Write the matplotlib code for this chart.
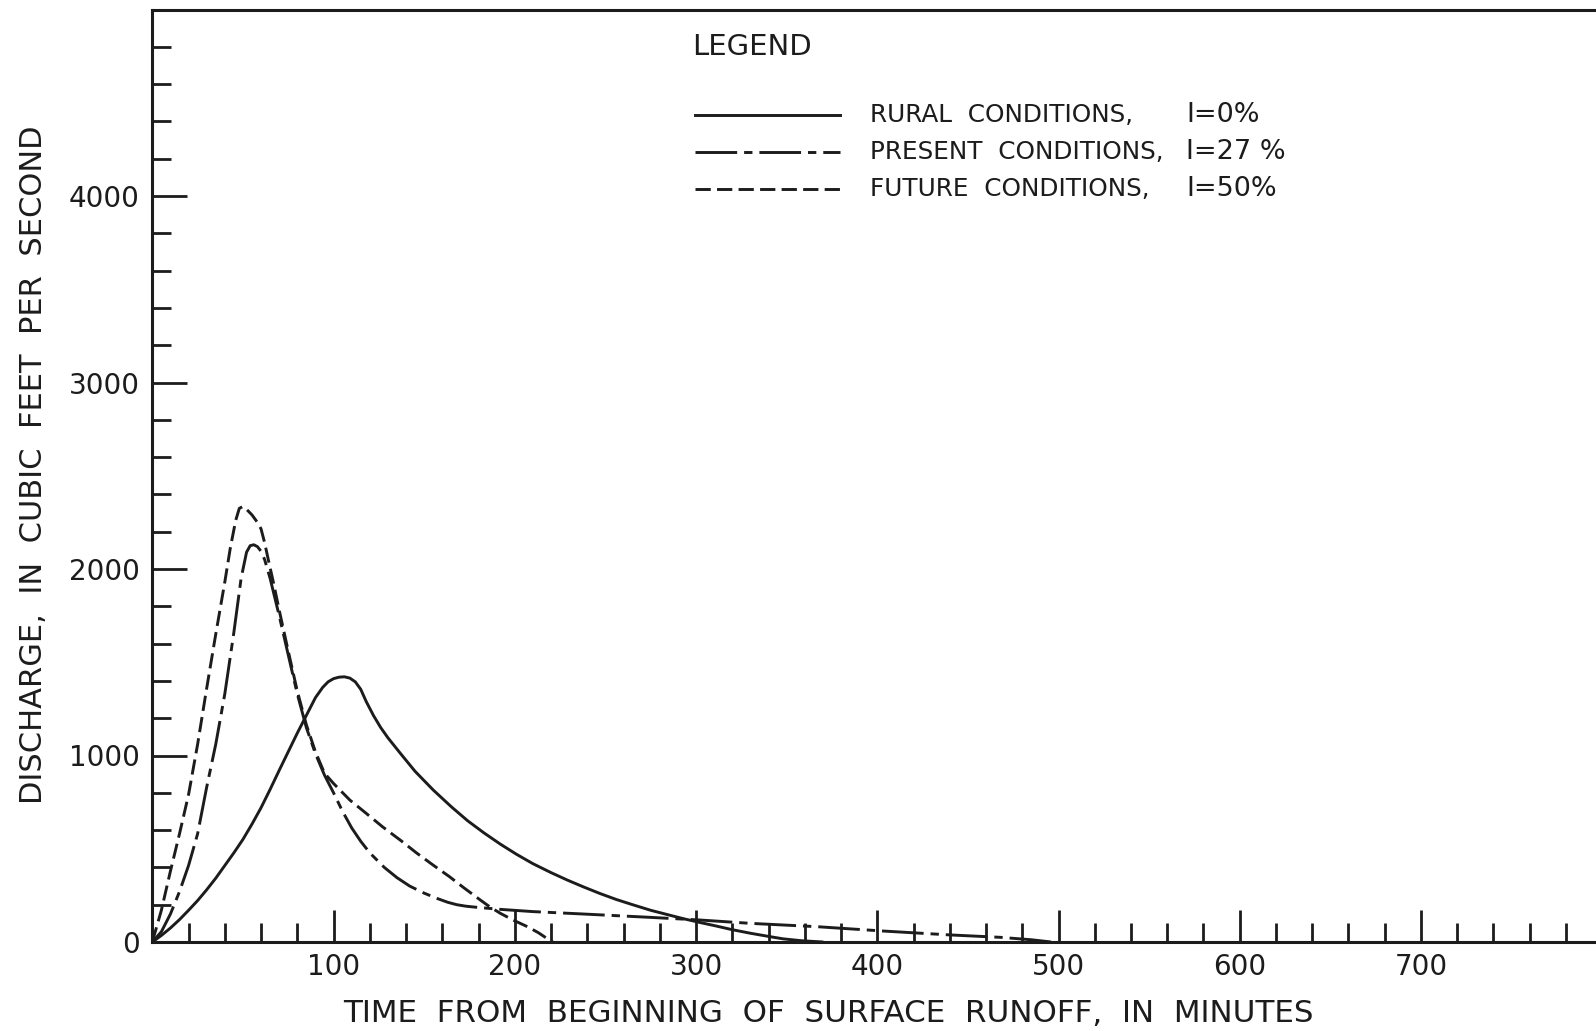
import matplotlib
matplotlib.use("Agg")
import matplotlib.pyplot as plt
from matplotlib.lines import Line2D
from matplotlib.ticker import FixedLocator, MultipleLocator

plt.rcParams["font.family"] = ["DejaVu Sans"]
plt.rcParams["lines.scale_dashes"] = False

INK = "#1c1c1c"

# Hydrographs: time from beginning of surface runoff (min) vs discharge (cfs)
rural_t = [0, 5, 10, 15, 20, 25, 30, 35, 40, 45, 50, 55, 60, 65, 70, 75, 80, 85, 90,
           94, 97, 100, 103, 106, 109, 112, 115, 118, 122, 126, 130, 137, 145, 155,
           165, 174, 183, 192, 201, 210, 220, 229, 238, 247, 256, 265, 275, 285, 293,
           302, 311, 320, 330, 340, 348, 358, 370]
rural_q = [0, 35, 75, 120, 170, 222, 280, 342, 410, 478, 550, 632, 720, 818, 920, 1020,
           1120, 1215, 1310, 1365, 1395, 1412, 1420, 1422, 1415, 1395, 1355, 1290, 1215,
           1150, 1095, 1010, 915, 815, 725, 650, 585, 525, 470, 420, 372, 332, 295, 260,
           228, 200, 170, 145, 125, 105, 86, 66, 47, 30, 17, 7, 0]

present_t = [0, 5, 10, 15, 20, 25, 30, 35, 40, 45, 49, 52, 54, 56, 58, 60, 62, 65, 70,
             75, 80, 85, 90, 95, 100, 105, 110, 115, 120, 128, 135, 142, 150, 157, 163,
             168, 173, 178, 185, 192, 210, 238, 275, 302, 330, 367, 403, 440, 468, 485,
             496]
present_q = [0, 55, 150, 270, 410, 580, 830, 1060, 1330, 1660, 1950, 2090, 2125, 2130,
             2120, 2095, 2050, 1950, 1750, 1540, 1330, 1150, 1010, 895, 800, 700, 612,
             540, 478, 400, 345, 300, 262, 234, 213, 200, 192, 187, 181, 175, 163, 150,
             132, 118, 100, 82, 59, 38, 25, 12, 0]

future_t = [0, 5, 10, 15, 20, 25, 30, 35, 40, 43, 46, 48, 50, 52, 55, 58, 60, 62, 64,
            67, 70, 75, 80, 85, 90, 95, 100, 109, 118, 127, 137, 146, 155, 164, 172, 181,
            186, 192, 199, 207, 213, 219, 221]
future_q = [0, 170, 380, 580, 790, 1060, 1360, 1650, 1930, 2110, 2260, 2325, 2335, 2320,
            2290, 2250, 2215, 2140, 2050, 1920, 1780, 1560, 1345, 1165, 1020, 905, 850,
            761, 690, 618, 545, 476, 412, 350, 290, 225, 190, 154, 118, 82, 50, 11, 0]

x_major = [0, 100, 200, 300, 400, 500, 600, 700, 800]
x_labels = ["", "100", "200", "300", "400", "500", "600", "700", ""]
y_major = [0, 1000, 2000, 3000, 4000]
y_labels = ["0", "1000", "2000", "3000", "4000"]

legend_entries = [
    ("RURAL  CONDITIONS,", "I=0%"),
    ("PRESENT  CONDITIONS,", "I=27 %"),
    ("FUTURE  CONDITIONS,", "I=50%"),
]

W, H = 1596, 1031
fig = plt.figure(figsize=(W / 100, H / 100), dpi=100)
fig.patch.set_facecolor("white")


def fx(x):
    return x / W


def fy(y):
    return 1 - y / H


x0, y0 = 152.3, 942.0
px_per_min = 1.8124
px_per_cfs = 0.1865
ax = fig.add_axes([fx(x0), fy(y0), 800 * px_per_min / W, 5000 * px_per_cfs / H])
ax.set_xlim(0, 800)
ax.set_ylim(0, 5000)
ax.set_facecolor("white")

lw = 2.1
solid_style = dict(color=INK, lw=lw, solid_capstyle="round", solid_joinstyle="round")
present_dash = (30, 5, 6, 5)
future_dash = (11, 4.5)

ax.plot(rural_t, rural_q, **solid_style)
ax.plot(present_t, present_q, color=INK, lw=lw, dashes=present_dash)
ax.plot(future_t, future_q, color=INK, lw=lw, dashes=future_dash)

for side in ("left", "bottom", "top"):
    ax.spines[side].set_linewidth(2.2)
    ax.spines[side].set_color(INK)
ax.spines["right"].set_visible(False)

ax.xaxis.set_major_locator(FixedLocator(x_major))
ax.set_xticklabels(x_labels)
ax.xaxis.set_minor_locator(MultipleLocator(20))
ax.yaxis.set_major_locator(FixedLocator(y_major))
ax.set_yticklabels(y_labels)
ax.yaxis.set_minor_locator(MultipleLocator(200))

ax.tick_params(axis="x", which="major", direction="in", length=23, width=2.0,
               color=INK, labelsize=20, labelcolor=INK, pad=8)
ax.tick_params(axis="x", which="minor", direction="in", length=13.5, width=2.0,
               color=INK)
ax.tick_params(axis="y", which="major", direction="in", length=25, width=2.0,
               color=INK, labelsize=20, labelcolor=INK, pad=9)
ax.tick_params(axis="y", which="minor", direction="in", length=13.5, width=2.0,
               color=INK)

# Axis titles
fig.text(fx(828), fy(1013), "TIME  FROM  BEGINNING  OF  SURFACE  RUNOFF,  IN  MINUTES",
         ha="center", va="center", fontsize=22.3, color=INK)
fig.text(fx(34), fy(465), "DISCHARGE,  IN  CUBIC  FEET  PER  SECOND",
         ha="center", va="center", rotation=90, fontsize=22, color=INK)

# Legend block
fig.text(fx(692), fy(47), "LEGEND", ha="left", va="center", fontsize=21, color=INK)
legend_rows = [115, 152, 189]
legend_styles = [dict(), dict(dashes=present_dash), dict(dashes=future_dash)]
for row_y, style, (name, imp) in zip(legend_rows, legend_styles, legend_entries):
    fig.add_artist(Line2D([fx(695), fx(840)], [fy(row_y), fy(row_y)],
                          transform=fig.transFigure, color=INK, lw=lw, **style))
    fig.text(fx(870), fy(row_y), name, ha="left", va="center", fontsize=17.8, color=INK)
    fig.text(fx(1186), fy(row_y), imp, ha="left", va="center", fontsize=19.5, color=INK)

fig.savefig("out.png", dpi=100, facecolor="white")
